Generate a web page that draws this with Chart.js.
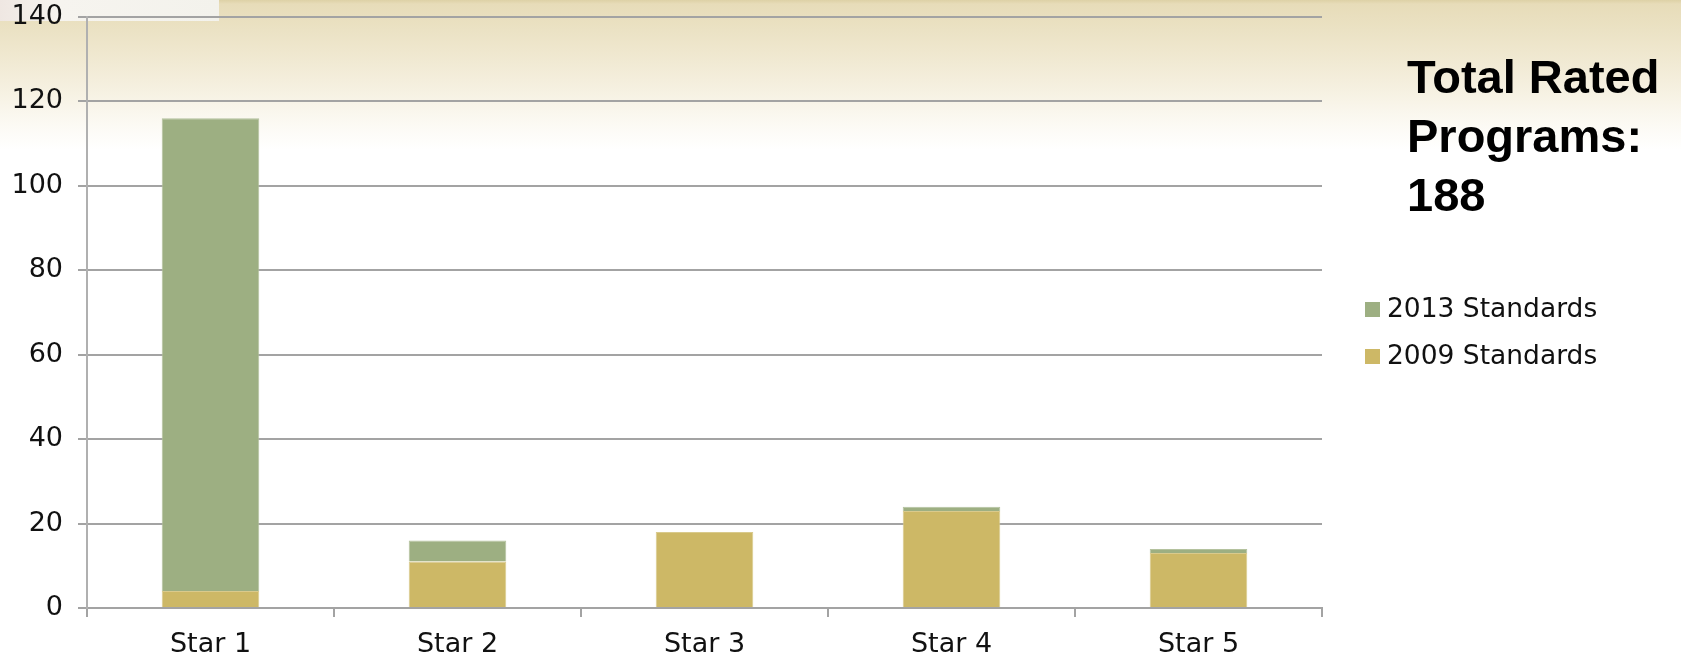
<!DOCTYPE html>
<html>
<head>
<meta charset="utf-8">
<script src="https://cdn.jsdelivr.net/npm/chart.js@4/dist/chart.umd.min.js"></script>
<style>
  html, body {
    margin: 0;
    padding: 0;
  }
  body {
    width: 1681px;
    height: 657px;
    position: relative;
    overflow: hidden;
    background: linear-gradient(to bottom, #ddd1a6 0px, #e7dcb9 4px, #ebe2c4 30px, #f4eedc 80px, #fcfaf4 125px, #ffffff 150px);
  }
  #corner {
    position: absolute;
    left: 0;
    top: 0;
    width: 219px;
    height: 21px;
    background: linear-gradient(to right, #efe7e2 0px, #f6f4ef 60px, #f3f2ec 219px);
  }
  #chart-wrap {
    position: absolute;
    left: 0;
    top: 0;
    width: 1681px;
    height: 657px;
  }
  #total {
    position: absolute;
    left: 1407px;
    top: 47px;
    font-family: "Liberation Sans", Arial, sans-serif;
    font-weight: bold;
    font-size: 47px;
    line-height: 59px;
    color: #000;
  }
  .legend-item {
    position: absolute;
    left: 1365px;
    height: 26px;
    font-family: "DejaVu Sans", Verdana, sans-serif;
    font-size: 26.5px;
    line-height: 26px;
    color: #111;
    white-space: nowrap;
  }
  .legend-item span.box {
    display: inline-block;
    width: 15px;
    height: 15px;
    margin-right: 7px;
    vertical-align: 0px;
  }
</style>
</head>
<body>
<div id="corner"></div>
<div id="chart-wrap"><canvas id="starChart" width="1681" height="657"></canvas></div>
<div id="total">Total Rated<br>Programs:<br>188</div>
<div id="legend"></div>

<script>
  // Programs per star level, split by the standards they were rated under
  const categories = ['Star 1', 'Star 2', 'Star 3', 'Star 4', 'Star 5'];
  const standards2009 = [4, 11, 18, 23, 13];
  const standards2013 = [112, 5, 0, 1, 1];
  const yTicks = [0, 20, 40, 60, 80, 100, 120, 140];

  const green = '#9daf82';
  const gold = '#cdb866';
  const gridColor = '#a3a3a3';

  const tickFont = { family: '"DejaVu Sans", Verdana, sans-serif', size: 27 };

  const starChart = new Chart(
    document.getElementById('starChart'),
    {
      type: 'bar',
      data: {
        labels: categories,
        datasets: [
          {
            label: '2009 Standards',
            data: standards2009,
            backgroundColor: gold,
            borderColor: '#d9ca8c',
            borderWidth: 1,
            categoryPercentage: 1,
            barPercentage: 0.395
          },
          {
            label: '2013 Standards',
            data: standards2013,
            backgroundColor: green,
            borderColor: '#b4c29e',
            borderWidth: 1,
            categoryPercentage: 1,
            barPercentage: 0.395
          }
        ]
      },
      options: {
        responsive: false,
        animation: false,
        layout: {
          padding: { top: 17, right: 359, left: 0, bottom: 0 }
        },
        plugins: {
          legend: { display: false },
          tooltip: { enabled: false }
        },
        scales: {
          x: {
            stacked: true,
            offset: true,
            grid: {
              offset: true,
              drawOnChartArea: false,
              drawTicks: true,
              tickLength: 9,
              color: gridColor,
              lineWidth: 2
            },
            border: { display: true, color: gridColor, width: 2 },
            ticks: { color: '#111', font: tickFont, padding: 12 },
            afterFit: (scale) => {
              scale.height = 49;
              scale.paddingLeft = 0;
              scale.paddingRight = 0;
            }
          },
          y: {
            stacked: true,
            min: 0,
            max: 140,
            afterBuildTicks: (scale) => {
              scale.ticks = yTicks.map(v => ({ value: v }));
            },
            grid: {
              color: gridColor,
              lineWidth: 2,
              tickLength: 9
            },
            border: { display: true, color: '#b0b0b0', width: 2 },
            ticks: { color: '#111', font: tickFont, padding: 15 },
            afterFit: (scale) => {
              // top label is allowed to poke above the plot
              scale.width = 87;
              scale.paddingTop = 0;
              scale.paddingBottom = 0;
            }
          }
        }
      }
    }
  );

  // Legend on the right, newest standards first
  const legend = document.getElementById('legend');
  starChart.data.datasets.slice().reverse().forEach((ds, i) => {
    const item = document.createElement('div');
    item.className = 'legend-item';
    item.style.top = (295 + i * 47) + 'px';
    const box = document.createElement('span');
    box.className = 'box';
    box.style.background = ds.backgroundColor;
    item.appendChild(box);
    item.appendChild(document.createTextNode(ds.label));
    legend.appendChild(item);
  });
</script>
</body>
</html>
